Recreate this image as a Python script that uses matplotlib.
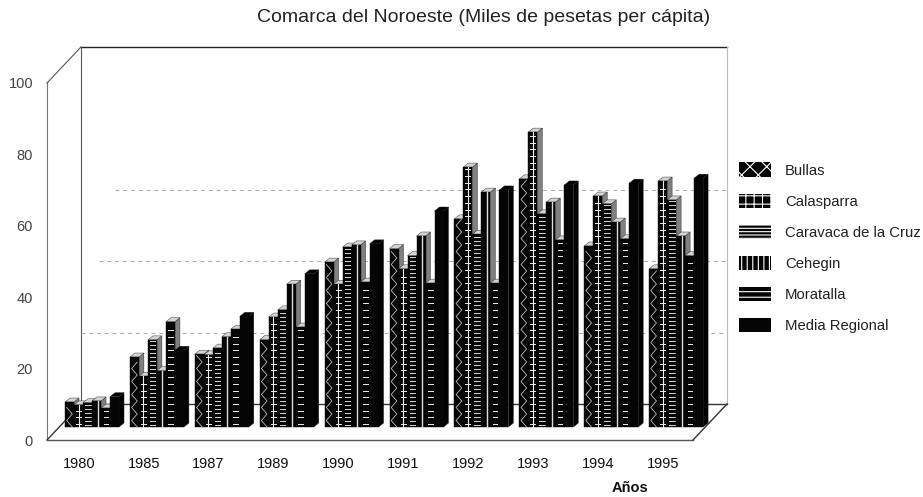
import numpy as np
import matplotlib
matplotlib.use("Agg")
import matplotlib.pyplot as plt
from matplotlib.patches import Polygon, Patch

plt.rcParams['font.family'] = ['Liberation Sans', 'DejaVu Sans']
plt.rcParams['hatch.linewidth'] = 0.8

# Data
years = ['1980', '1985', '1987', '1989', '1990', '1991', '1992', '1993', '1994', '1995']
bullas = [7.0, 19.6, 20.4, 24.5, 46.2, 50.0, 58.3, 69.5, 50.7, 44.3]
calasparra = [6.2, 14.2, 20.2, 30.8, 40.0, 44.3, 72.8, 82.6, 64.7, 68.9]
caravaca = [6.8, 24.4, 22.1, 32.8, 50.4, 48.0, 54.0, 59.7, 62.5, 63.6]
cehegin = [7.3, 15.8, 25.3, 40.0, 51.0, 53.5, 65.8, 63.0, 57.4, 53.5]
moratalla = [5.3, 29.5, 27.4, 28.0, 40.6, 40.3, 40.3, 52.4, 52.7, 48.0]
media = [8.5, 21.5, 31.0, 42.9, 51.3, 60.5, 66.4, 67.8, 68.3, 69.7]
series = [bullas, calasparra, caravaca, cehegin, moratalla, media]
names = ['Bullas', 'Calasparra', 'Caravaca de la Cruz', 'Cehegin', 'Moratalla', 'Media Regional']
legend_hatch = ['xx', '++', '-----', '|||', '---', None]
y_ticks = [0, 20, 40, 60, 80, 100]
grid_vals = [20, 40, 60]
grid_start_px = [34, 52, 68]

W, H = 923, 497
fig = plt.figure(figsize=(W / 100, H / 100), dpi=100)
# axes box is the front face of the 3d frame
ax = fig.add_axes([47 / W, 1 - 440 / H, 646 / W, 357 / H])
ax.set_xlim(-0.709, 9.245)
ax.set_ylim(0, 100)

PX = 9.954 / 646   # data x per pixel
PY = 100 / 357     # data y per pixel

def shift(x, y, dx_px, dy_px):
    return x + dx_px * PX, y + dy_px * PY

# frame
dep_x, dep_y = 34, 36
bx, by = shift(-0.709, 0, dep_x, dep_y)
rx, _ = shift(9.245, 0, dep_x, dep_y)
_, ty = shift(0, 100, 0, dep_y)
ax.plot([-0.709, -0.709], [0, 100], color='#777777', lw=0.8, clip_on=False)
ax.plot([-0.709, bx], [100, ty], color='#555555', lw=0.8, clip_on=False)
ax.plot([bx, rx], [ty, ty], color='#222222', lw=1.0, clip_on=False)
ax.plot([bx, bx], [by, ty], color='#555555', lw=0.8, clip_on=False)
ax.plot([rx, rx], [by, ty], color='#bbbbbb', lw=0.8, clip_on=False)
ax.plot([bx, rx], [by, by], color='#333333', lw=1.0, clip_on=False)
ax.plot([-0.709, bx], [0, by], color='#333333', lw=1.0, clip_on=False)
ax.plot([-0.709, 9.245], [0, 0], color='#555555', lw=1.0, clip_on=False)
ax.plot([9.245, rx], [0, by], color='#333333', lw=1.0, clip_on=False)
for g, s_px in zip(grid_vals, grid_start_px):
    ax.plot([-0.709 + s_px * PX, rx], [g + dep_y * PY] * 2, color='#aaaaaa', lw=0.7,
            ls=(0, (4, 4)), clip_on=False)

# bars
bar_px = 9.0
base_px = 13     # bar front sits this far above the front floor line
dep_bx, dep_by = 5, 4
start_px = -28.0 # first bar relative to the group position

def pattern(i, x0, x1, y0, y1):
    xc = (x0 + x1) / 2
    if i == 0:  # zigzag
        ys = np.arange(y0, y1, 6.5 * PY)
        xs = [xc + (-1) ** k * 2.8 * PX for k in range(len(ys))]
        ax.plot(xs, ys, color='#bbbbbb', lw=0.6, zorder=zo + 0.1)
    elif i == 1:  # ticks and centre line
        ax.plot([xc, xc], [y0, y1], color='#eeeeee', lw=0.8, zorder=zo + 0.1)
        for y in np.arange(y0 + 3 * PY, y1 - 2 * PY, 6.7 * PY):
            ax.plot([x0 + 2 * PX, x1 - 2 * PX], [y, y], color='#eeeeee', lw=0.7, zorder=zo + 0.1)
    elif i == 2:  # dense stripes
        for y in np.arange(y0 + 2 * PY, y1 - 1 * PY, 4 * PY):
            ax.plot([x0 + 2 * PX, x1 - 1.5 * PX], [y, y], color='#d8d8d8', lw=0.7, zorder=zo + 0.1)
    elif i == 3:  # centre line
        ax.plot([xc + 1 * PX, xc + 1 * PX], [y0, y1], color='#dddddd', lw=1.0, zorder=zo + 0.1)
    elif i == 4:  # sparse dashes
        for y in np.arange(y0 + 3 * PY, y1 - 2 * PY, 6.7 * PY):
            ax.plot([x0 + 2.5 * PX, x1 - 2 * PX], [y, y], color='#eeeeee', lw=0.7, zorder=zo + 0.1)

zo = 3
for g in range(len(years)):
    for i, vals in enumerate(series):
        v = vals[g]
        x0 = g + (start_px + i * bar_px) * PX
        x1 = x0 + bar_px * PX
        y0 = base_px * PY
        y1 = y0 + v
        dark = i == 5
        side = '#000000' if dark else '#808080'
        top = '#000000' if dark else '#d4d4d4'
        ddx, ddy = dep_bx * PX, dep_by * PY
        ax.add_patch(Polygon([(x1, y0), (x1 + ddx, y0 + ddy), (x1 + ddx, y1 + ddy), (x1, y1)],
                             facecolor=side, edgecolor='#222222', lw=0.3, zorder=zo, clip_on=False))
        ax.add_patch(Polygon([(x0, y1), (x1, y1), (x1 + ddx, y1 + ddy), (x0 + ddx, y1 + ddy)],
                             facecolor=top, edgecolor='#222222', lw=0.3, zorder=zo, clip_on=False))
        ax.bar(x0, v, width=bar_px * PX, bottom=y0, align='edge', color='#050505',
               edgecolor='#050505', lw=0.3, zorder=zo, clip_on=False)
        pattern(i, x0, x1, y0, y1)
        zo += 1

# axes text
for s in ax.spines.values():
    s.set_visible(False)
ax.patch.set_alpha(0)
ax.set_yticks(y_ticks)
ax.tick_params(axis='y', length=0, pad=10, labelsize=10.5, labelcolor='#444444')
ax.set_xticks(np.arange(len(years)) - 0.22)
ax.set_xticklabels(years)
ax.tick_params(axis='x', length=0, pad=12.5, labelsize=10.5, labelcolor='#111111')

fig.text(483.5 / W, 1 - 18 / H, 'Comarca del Noroeste (Miles de pesetas per cápita)',
         ha='center', va='center', fontsize=14, color='#222222')
fig.text(630 / W, 1 - 488 / H, 'Años', ha='center', va='center', fontsize=10.5,
         fontweight='bold', color='#111111')

# legend
handles = [Patch(facecolor='#050505', edgecolor='white', hatch=h, lw=0) for h in legend_hatch]
leg = ax.legend(handles, names, loc='upper left', bbox_to_anchor=(739 / W, 1 - 162.5 / H),
                bbox_transform=fig.transFigure, frameon=False, fontsize=10.7,
                handlelength=2.15, handleheight=1.15, handletextpad=0.94,
                labelspacing=1.05, borderpad=0, borderaxespad=0, labelcolor='#222222')

fig.savefig('out.png', dpi=100, facecolor='white')
